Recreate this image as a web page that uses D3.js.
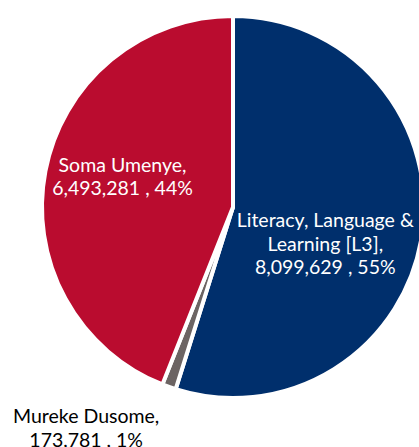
<!DOCTYPE html>
<html><head><meta charset="utf-8">
<script src="https://cdn.jsdelivr.net/npm/d3@7"></script>
<style>html,body{margin:0;padding:0;background:#fff;}svg{display:block;}</style>
</head><body>
<svg id="chart" width="419" height="447"></svg>
<script>
const categories = ["Literacy, Language & Learning [L3]", "Mureke Dusome", "Soma Umenye"];
const values = [8099629, 173781, 6493281];
const percentLabels = ["55%", "1%", "44%"];
const colors = ["#002F6C", "#6C6463", "#BA0C2F"];

const svg = d3.select("#chart");
const cx = 233, cy = 207, R = 191;
const fmt = d3.format(",");

const data = categories.map((c, i) => ({ name: c, value: values[i], pct: percentLabels[i], color: colors[i] }));
const pie = d3.pie().sort(null).value(d => d.value);
const arcs = pie(data);
const arc = d3.arc().innerRadius(0).outerRadius(R);

const g = svg.append("g").attr("transform", `translate(${cx},${cy})`);
g.selectAll("path").data(arcs).enter().append("path")
  .attr("d", arc)
  .attr("fill", d => d.data.color)
  .attr("stroke", "#fff")
  .attr("stroke-width", 4)
  .attr("stroke-linejoin", "miter");

const lines = [
  d => ["Literacy, Language &", "Learning [L3],", fmt(d.value) + " , " + d.pct],
  d => ["Mureke Dusome,", fmt(d.value) + " , " + d.pct],
  d => ["Soma Umenye,", fmt(d.value) + " , " + d.pct]
];
// label placement: radius factor and angular shift (degrees) from slice mid-angle
const labelPlace = [[0.52, 13], [1.39, 14], [0.60, 4.5]];
const fontSize = 19.5, lineH = 23.5;

arcs.forEach((a, i) => {
  const mid = (a.startAngle + a.endAngle) / 2 + labelPlace[i][1] * Math.PI / 180;
  const r = R * labelPlace[i][0];
  const x = r * Math.sin(mid), y = -r * Math.cos(mid);
  const ls = lines[i](a.data);
  const t = g.append("text")
    .attr("text-anchor", "middle")
    .attr("font-family", "'Gill Sans MT','Gill Sans',Lato,sans-serif")
    .attr("font-size", fontSize)
    .attr("fill", i === 1 ? "#000" : "#fff");
  ls.forEach((l, k) => {
    t.append("tspan").attr("x", x).attr("y", y + (k - (ls.length - 1) / 2) * lineH + 7).text(l);
  });
});
</script>
</body></html>
